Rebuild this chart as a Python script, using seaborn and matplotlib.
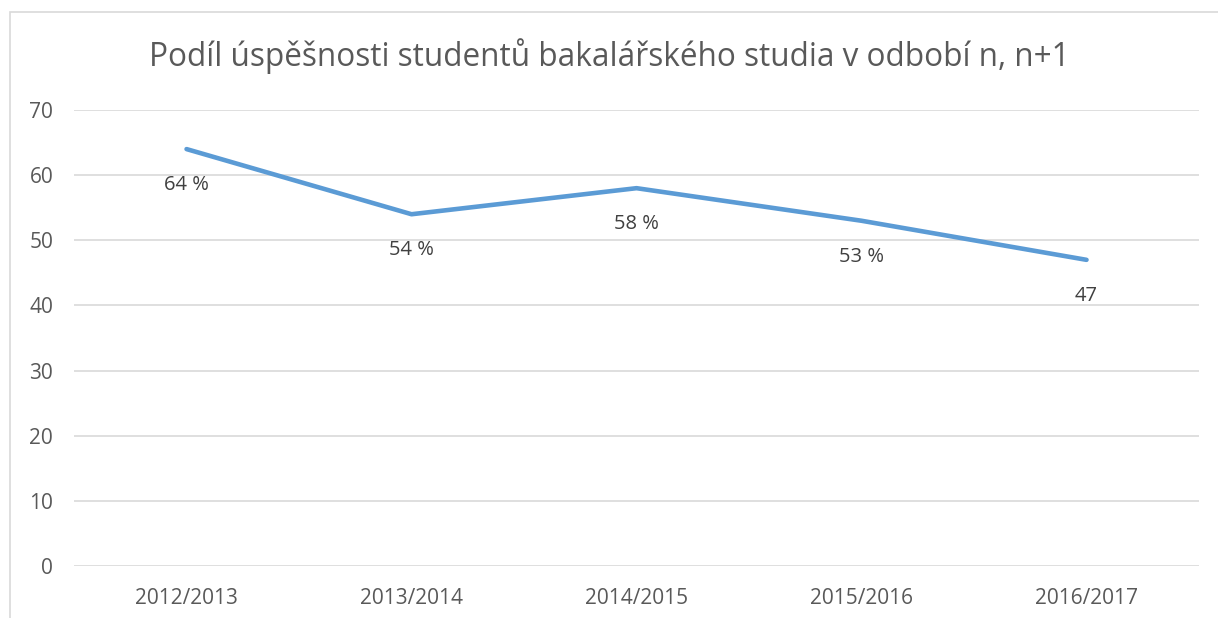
import matplotlib
matplotlib.use("Agg")
import matplotlib.pyplot as plt
import seaborn as sns
import pandas as pd

# data
years = ['2012/2013', '2013/2014', '2014/2015', '2015/2016', '2016/2017']
success = [64, 54, 58, 53, 47]
labels = ['64 %', '54 %', '58 %', '53 %', '47']

df = pd.DataFrame({'year': years, 'success': success})

sns.set_theme(style="white")
plt.rcParams['font.family'] = ['Open Sans', 'DejaVu Sans']

fig = plt.figure(figsize=(12.18, 6.18), dpi=100)
ax = fig.add_axes([0.0608, 0.0841, 0.9236, 0.7379])

sns.lineplot(data=df, x='year', y='success', ax=ax, color='#5B9BD5',
             linewidth=3.3, sort=False)

for i, (v, lab) in enumerate(zip(success, labels)):
    ax.annotate(lab, (i, v), xytext=(0, -26), textcoords='offset points',
                ha='center', va='center', fontsize=14.5, color='#404040')

ax.set_xlim(-0.5, len(years) - 0.5)
ax.set_ylim(0, 70)
ax.set_yticks(range(0, 71, 10))
ax.yaxis.grid(True, color='#D9D9D9', linewidth=1.2)
ax.set_axisbelow(True)
for s in ax.spines.values():
    s.set_visible(False)
ax.tick_params(axis='both', length=0, labelsize=15, colors='#595959')
ax.tick_params(axis='y', pad=15)
ax.tick_params(axis='x', pad=16)
ax.set_xlabel('')
ax.set_ylabel('')

fig.text(0.5, 0.91, 'Podíl úspěšnosti studentů bakalářského studia v odbobí n, n+1',
         ha='center', va='center', fontsize=22.7, color='#595959')

# chart frame
border = plt.Rectangle((10 / 1218, -0.05), 1.2, 1 - 12 / 618 + 0.05,
                       transform=fig.transFigure, fill=False,
                       edgecolor='#D9D9D9', linewidth=1.2)
fig.patches.append(border)

fig.savefig('out.png', dpi=100)
